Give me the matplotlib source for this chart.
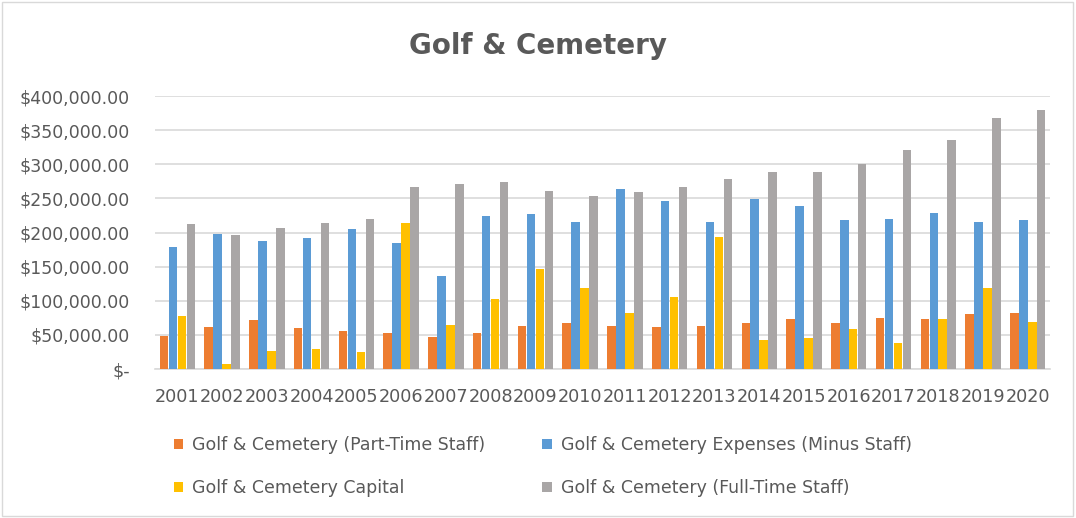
import matplotlib
matplotlib.use("Agg")
import matplotlib.pyplot as plt
from matplotlib.patches import Rectangle
import numpy as np

years = [str(y) for y in range(2001, 2021)]

part_time = [49000, 62000, 72000, 60000, 55000, 53000, 47000, 53000, 63000, 67000,
             63000, 62000, 63000, 68000, 73000, 67000, 75000, 73000, 80000, 82000]
expenses = [179000, 198000, 187000, 192000, 205000, 185000, 137000, 224000, 227000, 216000,
            264000, 246000, 216000, 249000, 239000, 218000, 220000, 229000, 216000, 219000]
capital = [78000, 8000, 26000, 30000, 25000, 214000, 65000, 102000, 147000, 119000,
           82000, 105000, 194000, 43000, 45000, 58000, 38000, 73000, 119000, 69000]
full_time = [212000, 196000, 207000, 214000, 220000, 266000, 271000, 274000, 261000, 253000,
             259000, 267000, 278000, 289000, 289000, 300000, 321000, 336000, 368000, 380000]

series = [
    ("Golf & Cemetery (Part-Time Staff)", part_time, "#ED7D31"),
    ("Golf & Cemetery Expenses (Minus Staff)", expenses, "#5B9BD5"),
    ("Golf & Cemetery Capital", capital, "#FFC000"),
    ("Golf & Cemetery (Full-Time Staff)", full_time, "#A9A6A6"),
]

text_color = "#595959"

fig = plt.figure(figsize=(10.76, 5.18), dpi=100)
ax = fig.add_axes([0.144, 0.2876, 0.832, 0.527])

x = np.arange(len(years))
w = 0.19
offsets = [-0.3, -0.1, 0.1, 0.3]
bars = []
for (label, vals, color), off in zip(series, offsets):
    b = ax.bar(x + off, vals, w, color=color, label=label, zorder=3)
    bars.append(b)

ax.set_xlim(-0.5, len(years) - 0.5)
ax.set_ylim(0, 400000)
ax.set_yticks(np.arange(0, 400001, 50000))
ax.set_yticklabels(["$-"] + ["${:,.2f}".format(v) for v in range(50000, 400001, 50000)])
ax.set_xticks(x)
ax.set_xticklabels(years)
ax.grid(axis="y", color="#D9D9D9", linewidth=1.2, zorder=0)
ax.tick_params(length=0, colors=text_color)
ax.tick_params(axis="y", pad=18, labelsize=12.5)
ax.tick_params(axis="x", pad=14, labelsize=12.7)
for s in ["top", "right", "left"]:
    ax.spines[s].set_visible(False)
ax.spines["bottom"].set_color("#D9D9D9")
ax.spines["bottom"].set_linewidth(1.2)

fig.text(0.5, 0.912, "Golf & Cemetery", ha="center", va="center",
         fontsize=20, fontweight="bold", color=text_color)

h = [bars[0], bars[2], bars[1], bars[3]]
labels = [series[0][0], series[2][0], series[1][0], series[3][0]]
fig.legend(h, labels, ncol=2, loc="upper left", bbox_to_anchor=(0.155, 0.171),
           frameon=False, fontsize=12.5, handlelength=0.55, handleheight=0.55,
           handletextpad=0.5, columnspacing=3.3, labelspacing=1.42,
           labelcolor=text_color, borderaxespad=0)

fig.patches.append(Rectangle((0.002, 0.003), 0.995, 0.993, transform=fig.transFigure,
                             fill=False, edgecolor="#D9D9D9", linewidth=1))

fig.savefig("out.png", dpi=100)
